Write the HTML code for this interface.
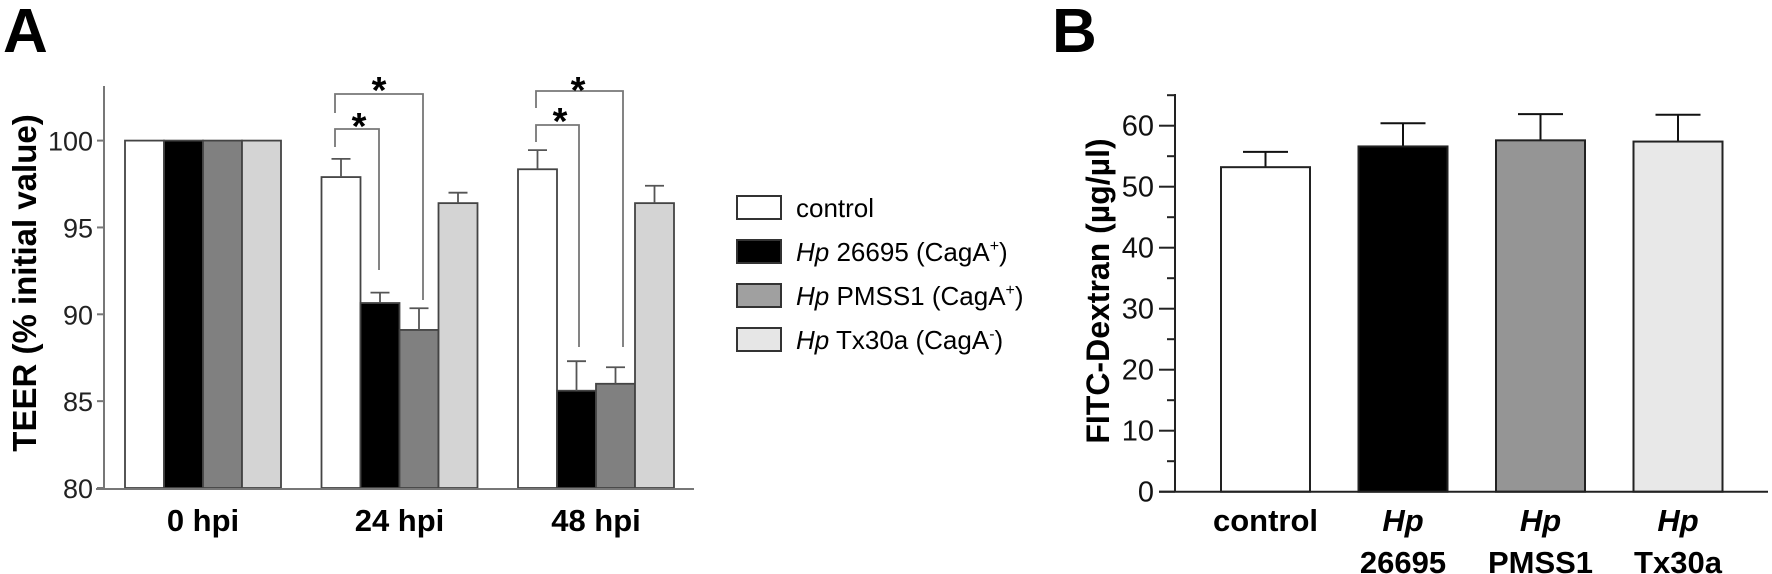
<!DOCTYPE html>
<html><head><meta charset="utf-8"><style>
html,body{margin:0;padding:0;background:#fff;}
svg{display:block;font-family:"Liberation Sans",Arial,sans-serif;}
</style></head><body>
<svg id="fig" width="1772" height="574" viewBox="0 0 1772 574" xmlns="http://www.w3.org/2000/svg">
<text x="3" y="52" font-size="62" font-weight="bold">A</text>
<text x="1052" y="52" font-size="62" font-weight="bold">B</text>
<g id="gA"></g>
<g id="gL"></g>
<g id="gB"></g>
</svg>
<script>
// Panel A data
const aGroups = ["0 hpi","24 hpi","48 hpi"];
const aSeries = ["control","Hp 26695 (CagA+)","Hp PMSS1 (CagA+)","Hp Tx30a (CagA-)"];
const aControl = [100, 97.9, 98.35];
const aHp26695 = [100, 90.65, 85.6];
const aPMSS1 = [100, 89.1, 86.0];
const aTx30a = [100, 96.4, 96.4];
const aErrControl = [0, 1.05, 1.1];
const aErrHp26695 = [0, 0.6, 1.7];
const aErrPMSS1 = [0, 1.25, 0.95];
const aErrTx30a = [0, 0.6, 1.0];
const aTicks = [80, 85, 90, 95, 100];
// Panel B data
const bCats = [["control"],["Hp","26695"],["Hp","PMSS1"],["Hp","Tx30a"]];
const bValues = [53.2, 56.6, 57.6, 57.4];
const bErrors = [2.5, 3.8, 4.3, 4.4];
const bTicks = [0, 10, 20, 30, 40, 50, 60];

const NS="http://www.w3.org/2000/svg";
function mk(parent, tag, attrs, text){const e=document.createElementNS(NS,tag);for(const k in attrs)e.setAttribute(k,attrs[k]);if(text!==undefined)e.textContent=text;parent.appendChild(e);return e;}

// ---- Panel A ----
const gA=document.getElementById('gA');
const yA=v=>488-(v-80)*17.37;
const xA=(g,s)=>125+g*196.5+s*39;
const aVals=[aControl,aHp26695,aPMSS1,aTx30a];
const aErrs=[aErrControl,aErrHp26695,aErrPMSS1,aErrTx30a];
const aFill=["#ffffff","#000000","#808080","#d4d4d4"];
const aNames=["control","hp26695","pmss1","tx30a"];
for(let g=0;g<aGroups.length;g++){
  for(let s=0;s<4;s++){
    const v=aVals[s][g], x=xA(g,s);
    const r=mk(gA,'rect',{x:x,y:yA(v),width:39,height:yA(80)-yA(v),fill:aFill[s],stroke:"#444",'stroke-width':1.8});
    
    
    const e=aErrs[s][g];
    if(e>0){
      const eg=mk(gA,'g',{stroke:"#555",'stroke-width':1.8});
      
      
      mk(eg,'line',{x1:x+19.5,x2:x+19.5,y1:yA(v),y2:yA(v+e)});
      mk(eg,'line',{x1:x+10,x2:x+29,y1:yA(v+e),y2:yA(v+e)});
    }
  }
  const t=mk(gA,'text',{x:xA(g,2),y:531,'font-size':31,'font-weight':'bold','text-anchor':'middle'},aGroups[g]);
  
  
}
const axA=mk(gA,'g',{stroke:"#777",'stroke-width':2});


mk(axA,'line',{x1:104,x2:104,y1:86,y2:489});
mk(axA,'line',{x1:96,x2:694,y1:489,y2:489});
for(const t of aTicks){
  mk(axA,'line',{x1:97,x2:104,y1:yA(t),y2:yA(t)});
  const tl=mk(gA,'text',{x:93,y:yA(t)+10,'font-size':27,'text-anchor':'end',fill:"#222"},String(t));
  
  
}
const yt=mk(gA,'text',{x:0,y:0,'font-size':33,'font-weight':'bold','text-anchor':'middle',transform:'translate(36,283) rotate(-90)'},"TEER (% initial value)");


// significance brackets
function bracket(xl,xr,top,ly,ry,sx,sy){
  const b=mk(gA,'g',{});
  
  
  mk(b,'polyline',{points:`${xl},${ly} ${xl},${top} ${xr},${top} ${xr},${ry}`,fill:'none',stroke:'#777','stroke-width':1.8});
  mk(b,'text',{x:sx,y:sy+21,'font-size':38,'font-weight':'bold','text-anchor':'middle'},"*");
}
bracket(335,423,94,113,300,379,82);
bracket(335,379,129,147,270,359,118);
bracket(536,623,91,108,347,578,82);
bracket(536,579,125,142,347,560,113);

// ---- Legend ----
const gL=document.getElementById('gL');
const lFill=["#ffffff","#000000","#a0a0a0","#e6e6e6"];
const lPre=["","Hp","Hp","Hp"];
const lTxt=["control"," 26695 (CagA"," PMSS1 (CagA"," Tx30a (CagA"];
const lSup=["","+","+","-"];
for(let i=0;i<4;i++){
  const y=196+i*44;
  const b=mk(gL,'rect',{x:737,y:y,width:44,height:23,fill:lFill[i],stroke:"#333",'stroke-width':2});
  
  
  const t=mk(gL,'text',{x:796,y:y+21,'font-size':26});
  
  
  if(lPre[i]) mk(t,'tspan',{'font-style':'italic'},lPre[i]);
  mk(t,'tspan',{},lTxt[i]);
  if(lSup[i]){ mk(t,'tspan',{'font-size':16,dy:-10},lSup[i]); mk(t,'tspan',{dy:10},")"); }
}

// ---- Panel B ----
const gB=document.getElementById('gB');
const yB=v=>491.7-v*6.1;
const bFill=["#ffffff","#000000","#959595","#e8e8e8"];
for(let i=0;i<bValues.length;i++){
  const x=1221+i*137.5, v=bValues[i], e=bErrors[i];
  const eg=mk(gB,'g',{stroke:"#111",'stroke-width':2});
  
  
  mk(eg,'line',{x1:x+44.5,x2:x+44.5,y1:yB(v),y2:yB(v+e)});
  mk(eg,'line',{x1:x+22,x2:x+67,y1:yB(v+e),y2:yB(v+e)});
  const r=mk(gB,'rect',{x:x,y:yB(v),width:89,height:yB(0)-yB(v),fill:bFill[i],stroke:"#222",'stroke-width':2});
  
  
  const c=bCats[i];
  for(let j=0;j<c.length;j++){
    const t=mk(gB,'text',{x:x+44.5,y:531+j*42,'font-size':31,'font-weight':'bold','text-anchor':'middle','font-style':c[j]==="Hp"?'italic':'normal'},c[j]);
    
    
  }
}
const axB=mk(gB,'g',{stroke:"#222",'stroke-width':2});


mk(axB,'line',{x1:1175,x2:1175,y1:94,y2:492});
mk(axB,'line',{x1:1159,x2:1768,y1:491.7,y2:491.7});
for(let v=5;v<=65;v+=10) mk(axB,'line',{x1:1167,x2:1175,y1:yB(v),y2:yB(v)});
for(const t of bTicks){
  mk(axB,'line',{x1:1159,x2:1175,y1:yB(t),y2:yB(t)});
  const tl=mk(gB,'text',{x:1154,y:yB(t)+10,'font-size':29,'text-anchor':'end',fill:"#111"},String(t));
  
  
}
const ytb=mk(gB,'text',{x:0,y:0,'font-size':32,'font-weight':'bold','text-anchor':'middle',transform:'translate(1109,291) rotate(-90)'},"FITC-Dextran (µg/µl)");


</script>
</body></html>
